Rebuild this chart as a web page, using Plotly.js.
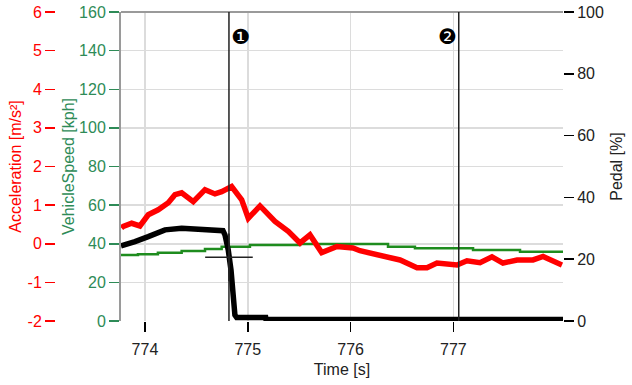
<!DOCTYPE html>
<html>
<head>
<meta charset="utf-8">
<script src="https://cdn.plot.ly/plotly-3.0.1.min.js"></script>
<style>html,body{margin:0;padding:0;background:#fff;}#chart{width:632px;height:385px;}</style>
</head>
<body>
<div id="chart"></div>
<script>
// Vehicle speed [kph] (stepwise)
const speedTime = [773.767, 773.932, 774.126, 774.357, 774.584, 774.746, 775.021, 775.508, 776.364, 776.626, 777.191, 777.648, 778.066];
const speedVals = [34.2, 34.6, 35.4, 36.3, 37.3, 38.5, 39.4, 39.9, 38.5, 37.7, 36.8, 35.9, 35.9];

// Acceleration [m/s²]
const accelTime = [773.771, 773.789, 773.871, 773.951, 774.032, 774.129, 774.227, 774.292, 774.357, 774.470, 774.584, 774.681, 774.746, 774.843, 774.941, 775.005, 775.119, 775.265, 775.394, 775.508, 775.605, 775.719, 775.868, 776.023, 776.091, 776.286, 776.481, 776.646, 776.743, 776.840, 777.035, 777.132, 777.259, 777.375, 777.482, 777.619, 777.774, 777.872, 777.969, 778.056];
const accelVals = [0.41, 0.45, 0.53, 0.46, 0.75, 0.88, 1.06, 1.27, 1.32, 1.09, 1.40, 1.29, 1.35, 1.48, 1.14, 0.66, 0.98, 0.58, 0.32, 0.02, 0.23, -0.23, -0.07, -0.11, -0.18, -0.29, -0.42, -0.62, -0.62, -0.50, -0.55, -0.44, -0.49, -0.34, -0.50, -0.42, -0.42, -0.33, -0.46, -0.55];

// Pedal [%]
const pedalTime = [773.767, 773.789, 773.903, 774.032, 774.195, 774.357, 774.518, 774.713, 774.759, 774.778, 774.810, 774.837, 774.856, 774.875, 774.892, 775.174, 775.177, 778.066];
const pedalVals = [24.3, 24.6, 25.7, 27.3, 29.5, 30.0, 29.7, 29.3, 29.2, 27.9, 23.0, 16.5, 6.8, 1.9, 1.1, 1.1, 0.5, 0.5];

// Cursor cross
const cursorTime = [774.817];
const cursorPedal = [20.6];

// Markers
const markerTimes = [774.817, 777.052];
const markerLabels = ['❶', '❷'];

// Axis ticks
const timeTicks = [774, 775, 776, 777];
const timeRange = [773.767, 778.066];
const accelTicks = [-2, -1, 0, 1, 2, 3, 4, 5, 6];
const accelTickText = ['-2', '-1', '0', '1', '2', '3', '4', '5', '6'];

const FONT = 'Liberation Sans, Arial, sans-serif';
const GRID = '#dcdcdc';
const RED = '#ff0000';
const GREEN_LINE = '#1e8c1e';
const GREEN_TXT = '#2e8b57';

const traces = [
  {x: speedTime, y: speedVals, type: 'scatter', mode: 'lines', yaxis: 'y',
   line: {color: GREEN_LINE, width: 2.5, shape: 'hv'}, hoverinfo: 'skip'},
  {x: pedalTime, y: pedalVals, type: 'scatter', mode: 'lines', yaxis: 'y2',
   line: {color: '#000000', width: 5.5}, hoverinfo: 'skip'},
  {x: accelTime, y: accelVals, type: 'scatter', mode: 'lines', yaxis: 'y3',
   line: {color: RED, width: 5.5}, hoverinfo: 'skip'},
  {x: cursorTime, y: cursorPedal, type: 'scatter', mode: 'markers', yaxis: 'y2',
   marker: {symbol: 'cross-thin', size: 34, line: {color: '#222', width: 1.5}}, hoverinfo: 'skip'}
];

const plotLeft = 121, mL = 10, mR = 632 - 563;
const paperW = 632 - mL - mR;
const domStart = (plotLeft - mL) / paperW;

const layout = {
  width: 632, height: 385,
  margin: {l: mL, r: mR, t: 12, b: 64},
  paper_bgcolor: '#ffffff', plot_bgcolor: '#ffffff',
  showlegend: false,
  font: {family: FONT, size: 16, color: '#222'},
  xaxis: {
    domain: [domStart, 1], range: timeRange,
    tickvals: timeTicks, ticktext: timeTicks.map(String),
    ticks: 'outside', ticklen: 10, tickwidth: 1.5, tickcolor: '#000',
    ticklabelstandoff: 4,
    showgrid: true, gridcolor: GRID, gridwidth: 1.5,
    zeroline: false, showline: false,
    tickfont: {family: FONT, size: 16, color: '#222'},
    title: {text: 'Time [s]', font: {family: FONT, size: 16, color: '#222'}, standoff: 6}
  },
  yaxis: {
    range: [0, 160], dtick: 20, side: 'left', anchor: 'x',
    ticks: 'outside', ticklen: 10, tickwidth: 1.5, tickcolor: GREEN_TXT,
    tickfont: {family: FONT, size: 16, color: GREEN_TXT},
    showgrid: true, gridcolor: GRID, gridwidth: 1.5,
    zeroline: false, showline: true, linecolor: '#9a9a9a', linewidth: 2,
    title: {text: 'VehicleSpeed [kph]', font: {family: FONT, size: 16, color: GREEN_TXT}, standoff: 0}
  },
  yaxis2: {
    range: [0, 100], dtick: 20, side: 'right', anchor: 'x', overlaying: 'y',
    ticks: 'outside', ticklen: 10, tickwidth: 1.5, tickcolor: '#000',
    tickfont: {family: FONT, size: 16, color: '#222'},
    showgrid: false, zeroline: false, showline: false,
    title: {text: 'Pedal [%]', font: {family: FONT, size: 16, color: '#222'}, standoff: 7}
  },
  yaxis3: {
    range: [-2, 6], tickvals: accelTicks, ticktext: accelTickText,
    side: 'left', anchor: 'free', overlaying: 'y',
    position: (55 - mL) / paperW,
    ticks: 'outside', ticklen: 10, tickwidth: 1.5, tickcolor: RED,
    tickfont: {family: FONT, size: 16, color: RED},
    showgrid: false, zeroline: false, showline: false,
    title: {text: 'Acceleration [m/s²]', font: {family: FONT, size: 16, color: RED}, standoff: 0}
  },
  shapes: [
    {type: 'line', xref: 'paper', yref: 'paper', x0: domStart, x1: 1, y0: 1, y1: 1,
     line: {color: '#9a9a9a', width: 2}}
  ].concat(markerTimes.map(t => ({
    type: 'line', xref: 'x', yref: 'paper', x0: t, x1: t, y0: 0, y1: 1,
    line: {color: '#222', width: 1.5}
  }))),
  annotations: markerTimes.map((t, i) => ({
    x: t, y: (321 - 25 - 12) / 309, xref: 'x', yref: 'paper',
    text: markerLabels[i], showarrow: false,
    xanchor: i === 0 ? 'left' : 'right', yanchor: 'middle',
    xshift: i === 0 ? 0 : 0,
    font: {family: 'DejaVu Sans', size: 21, color: '#000'}
  }))
};

Plotly.newPlot('chart', traces, layout, {staticPlot: true, displayModeBar: false});
</script>
</body>
</html>
